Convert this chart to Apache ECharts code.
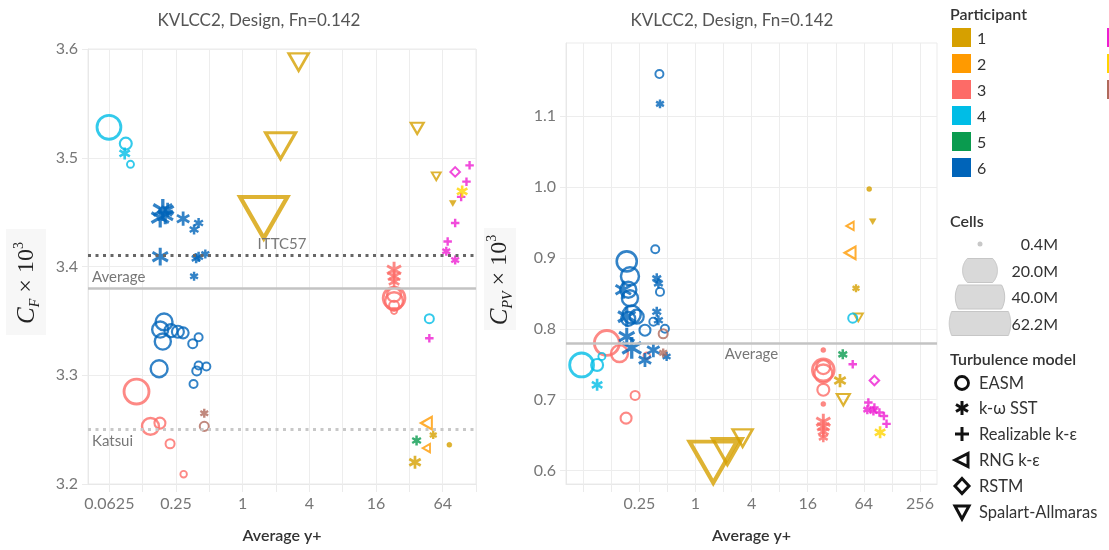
<!DOCTYPE html>
<html><head><meta charset="utf-8">
<script src="https://cdn.jsdelivr.net/npm/echarts@6/dist/echarts.min.js"></script>
<style>html,body{margin:0;padding:0;background:#fff}#c{width:1109px;height:550px}</style>
</head><body><div id="c"></div>
<script>
// ---------------- DATA ----------------
const chartTitle = 'KVLCC2, Design, Fn=0.142';
const participants = ['1','2','3','4','5','6','7','8','9'];
const modelCodes = ['EASM','SST','RKE','RNG','RSTM','SA'];
const modelNames = ['EASM','k-ω SST','Realizable k-ε','RNG k-ε','RSTM','Spalart-Allmaras'];
const cellsLegend = ['0.4M','20.0M','40.0M','62.2M'];
const cellsLegendValues = [0.4, 20.0, 40.0, 62.2];
const xLabelsCF = [0.0625, 0.25, 1, 4, 16, 64];
const xGridCF = [0.0625, 0.125, 0.25, 0.5, 1, 2, 4, 8, 16, 32, 64, 128];
const xLabelsCPV = [0.25, 1, 4, 16, 64, 256];
const xGridCPV = [0.0625, 0.125, 0.25, 0.5, 1, 2, 4, 8, 16, 32, 64, 128, 256];
const yLabelsCPV = [0.6, 0.7, 0.8, 0.9, 1.0, 1.1];
const refCF = [['ITTC57', 3.409], ['Average', 3.381], ['Katsui', 3.255]];
const refCPV = [['Average', 0.7775]];

// rows: [average y+, value x1000, cells (M), turbulence model]
const p1_CF = [[1.55,3.445,62.2,'SA'],[2.2,3.511,25,'SA'],[3.2,3.588,11,'SA'],[37.7,3.527,4.7,'SA'],[56,3.483,2.2,'SA'],[79,3.458,1.3,'SA'],[36,3.220,12,'SST'],[52.6,3.245,4.4,'SST'],[73.5,3.236,0.4,'EASM']];
const p2_CF = [[45.6,3.256,9,'RNG'],[45.6,3.233,4,'RNG']];
const p3_CF = [[0.110,3.285,48,'EASM'],[0.147,3.253,22,'EASM'],[0.179,3.256,9.3,'EASM'],[0.221,3.237,6.3,'EASM'],[0.293,3.209,3.3,'EASM'],
  [23.3,3.371,37,'EASM'],[23.3,3.368,25,'EASM'],[23.3,3.374,15,'EASM'],[23.3,3.364,7.7,'EASM'],[23.3,3.359,2.8,'EASM'],
  [23.3,3.397,18,'SST'],[23.3,3.391,14,'SST'],[23.3,3.386,10,'SST']];
const p4_CF = [[0.062,3.528,44,'EASM'],[0.088,3.513,11,'EASM'],[0.097,3.494,3.8,'EASM'],[0.086,3.504,10,'SST'],[48.5,3.352,6.3,'EASM']];
const p5_CF = [[37.2,3.240,7,'SST']];
const p6_CF = [[0.19,3.452,33,'SST'],[0.18,3.445,28,'SST'],[0.2,3.447,22,'SST'],[0.21,3.452,14,'SST'],[0.29,3.444,14,'SST'],[0.364,3.434,7,'SST'],[0.40,3.440,7,'SST'],[0.18,3.409,22,'SST'],[0.38,3.4075,7,'SST'],[0.40,3.409,7,'SST'],[0.46,3.4115,5.6,'SST'],[0.364,3.391,5.6,'SST'],
  [0.195,3.349,22,'EASM'],[0.18,3.342,20,'EASM'],[0.19,3.331,20,'EASM'],[0.225,3.341,13,'EASM'],[0.26,3.340,11,'EASM'],[0.29,3.339,9.3,'EASM'],[0.354,3.329,6.3,'EASM'],[0.40,3.335,5,'EASM'],[0.176,3.306,22,'EASM'],[0.385,3.304,6.3,'EASM'],[0.40,3.309,5,'EASM'],[0.47,3.308,5,'EASM'],[0.36,3.292,5,'EASM']];
const p7_CF = [[83,3.487,6.3,'RSTM'],[112,3.493,5,'RKE'],[105,3.478,5,'RKE'],[94,3.464,5,'RKE'],[83,3.440,5,'RKE'],[71,3.423,5,'RKE'],[48.5,3.334,5,'RKE'],[69,3.414,5.6,'SST'],[83,3.406,5.6,'SST']];
const p8_CF = [[96,3.469,10,'SST']];
const p9_CF = [[0.45,3.265,5.6,'SST'],[0.45,3.253,6.3,'EASM']];

const p1_CPV = [[1.55,0.612,62.2,'SA'],[2.2,0.627,25,'SA'],[3.2,0.646,11,'SA'],[38.5,0.700,4.7,'SA'],[55.8,0.816,2.2,'SA'],[79.6,0.951,1.3,'SA'],[35.5,0.727,12,'SST'],[52.7,0.857,4.4,'SST'],[73,0.997,0.4,'EASM']];
const p2_CPV = [[45.5,0.945,4,'RNG'],[45.5,0.907,9,'RNG']];
const p3_CPV = [[0.112,0.780,48,'EASM'],[0.153,0.765,22,'EASM'],[0.18,0.674,9.3,'EASM'],[0.225,0.706,6.3,'EASM'],[0.30,0.762,3.3,'EASM'],
  [23.5,0.742,37,'EASM'],[23.5,0.737,25,'EASM'],[23.5,0.746,15,'EASM'],[23.5,0.714,11,'EASM'],[23.5,0.770,1.2,'EASM'],[23.5,0.694,1.0,'EASM'],
  [23.5,0.669,18,'SST'],[23.5,0.662,14,'SST'],[23.5,0.655,10,'SST'],[23.5,0.647,7,'SST']];
const p4_CPV = [[0.06,0.749,44,'EASM'],[0.088,0.749,11,'EASM'],[0.099,0.761,3.8,'EASM'],[0.088,0.721,10,'SST'],[48.6,0.815,6.3,'EASM']];
const p5_CPV = [[38,0.764,7,'SST']];
const p6_CPV = [[0.183,0.895,31,'EASM'],[0.198,0.874,25,'EASM'],[0.19,0.855,20,'EASM'],[0.198,0.843,20,'EASM'],[0.207,0.820,25,'EASM'],[0.19,0.814,15,'EASM'],[0.234,0.817,15,'EASM'],[0.287,0.798,9.3,'EASM'],[0.353,0.810,5,'EASM'],[0.416,0.852,5,'EASM'],[0.47,0.800,5,'EASM'],[0.37,0.912,5,'EASM'],[0.41,1.159,5,'EASM'],
  [0.168,0.855,22,'SST'],[0.183,0.817,28,'SST'],[0.183,0.789,22,'SST'],[0.207,0.773,33,'SST'],[0.287,0.756,14,'SST'],[0.353,0.770,14,'SST'],[0.49,0.761,5.6,'SST'],[0.384,0.871,7,'SST'],[0.40,0.864,7,'SST'],[0.384,0.824,7,'SST'],[0.40,0.812,7,'SST'],[0.416,1.117,5.6,'SST']];
const p7_CPV = [[83,0.727,6.3,'RSTM'],[48.6,0.750,5,'RKE'],[71.5,0.696,5,'RKE'],[83,0.689,5,'RKE'],[94,0.682,5,'RKE'],[105,0.677,5,'RKE'],[112,0.666,5,'RKE'],[69.7,0.686,5.6,'SST'],[81,0.684,5.6,'SST']];
const p8_CPV = [[95.5,0.654,10,'SST']];
const p9_CPV = [[0.45,0.793,6.3,'EASM'],[0.45,0.766,5.6,'SST']];

// ---------------- STYLE ----------------
const colors = ['#d6a000','#ff9a00','#fd6b67','#00bde6','#0a9b4f','#0064b9','#ee1ed2','#ffd400','#b06a5c'];
const FONT = 'Lato, "Open Sans", sans-serif';
const SHAPE_K = {EASM:3.6, SST:3.8, RKE:3.8, RNG:4.2, RSTM:3.8, SA:6.0};
const PATHS = {
  SST: 'path://M0,-10L0,10M-8.66,-5L8.66,5M-8.66,5L8.66,-5',
  RKE: 'path://M0,-10L0,10M-10,0L10,0'
};
function markItem(row, color) {
  const x = row[0], y = row[1], cells = row[2], model = row[3];
  const s = Math.max(5, SHAPE_K[model] * Math.sqrt(cells));
  const it = {value: [x, y], symbolKeepAspect: true};
  const lined = (model === 'SST' || model === 'RKE');
  const bw = lined ? 1.8 + s * 0.07 : 1.5 + s * 0.055;
  if (model === 'EASM') { it.symbol = 'circle'; it.symbolSize = s; }
  else if (lined) { it.symbol = PATHS[model]; it.symbolSize = s; }
  else if (model === 'RNG') { it.symbol = 'triangle'; it.symbolSize = [s, s * 0.87]; it.symbolRotate = 90; }
  else if (model === 'RSTM') { it.symbol = 'diamond'; it.symbolSize = [s, s]; }
  else { it.symbol = 'triangle'; it.symbolSize = [s, s * 0.87]; it.symbolRotate = 180; }
  const filled = cells < 1.5 && !lined;
  it.itemStyle = {color: filled ? color : 'rgba(0,0,0,0)', borderColor: color, borderWidth: filled ? 0.5 : bw};
  return it;
}
const cfSets = [p1_CF,p2_CF,p3_CF,p4_CF,p5_CF,p6_CF,p7_CF,p8_CF,p9_CF];
const cpvSets = [p1_CPV,p2_CPV,p3_CPV,p4_CPV,p5_CPV,p6_CPV,p7_CPV,p8_CPV,p9_CPV];

function refLineData(list, positions, colorsL, types) {
  return list.map((r, i) => ({
    yAxis: r[1],
    lineStyle: {color: colorsL[i], type: types[i], width: types[i] === 'solid' ? 2.5 : 3},
    label: {show: true, formatter: r[0], position: positions[i], color: '#777', fontSize: 15, fontFamily: FONT, distance: 4}
  }));
}

const series = [];
cfSets.forEach((set, i) => {
  const s = {type: 'scatter', name: participants[i], xAxisIndex: 0, yAxisIndex: 0, clip: true,
    data: set.map(r => markItem(r, colors[i])), emphasis: {disabled: true}, animation: false};
  if (i === 0) s.markLine = {silent: true, symbol: 'none', animation: false,
    data: refLineData(refCF, ['insideMiddleTop','insideStartTop','insideStartBottom'], ['#666','#c3c3c3','#c8c8c8'], [[3,4.5],'solid',[3,4.5]])};
  series.push(s);
});
cpvSets.forEach((set, i) => {
  const s = {type: 'scatter', name: participants[i], xAxisIndex: 1, yAxisIndex: 1, clip: true,
    data: set.map(r => markItem(r, colors[i])), emphasis: {disabled: true}, animation: false};
  if (i === 0) s.markLine = {silent: true, symbol: 'none', animation: false,
    data: refLineData(refCPV, ['insideMiddleBottom'], ['#c3c3c3'], ['solid'])};
  series.push(s);
});

function xAxisCfg(grid, minExp, maxV, gridVals, labelVals) {
  return {
    type: 'log', logBase: 2, gridIndex: grid, min: Math.pow(2, minExp), max: maxV,
    axisLine: {show: true, lineStyle: {color: '#e8e8e8'}},
    axisTick: {show: true, length: 8, lineStyle: {color: '#ebebeb'}, customValues: gridVals},
    splitLine: {show: true, lineStyle: {color: '#ededed', width: 1}},
    axisLabel: {customValues: labelVals, color: '#777', fontSize: 16, fontFamily: FONT, margin: 12,
      formatter: v => String(+(+v).toPrecision(6))},
    name: 'Average y+', nameLocation: 'middle', nameGap: 44,
    nameTextStyle: {color: '#333', fontSize: 16, fontFamily: FONT, fontWeight: 600}
  };
}
function yAxisCfg(grid, mn, mx, split, labelVals) {
  const a = {
    type: 'value', gridIndex: grid, min: mn, max: mx, splitNumber: split,
    axisLine: {show: true, lineStyle: {color: '#e8e8e8'}},
    axisTick: {show: true, length: 6, lineStyle: {color: '#ebebeb'}},
    splitLine: {show: true, lineStyle: {color: '#ededed'}},
    axisLabel: {color: '#777', fontSize: 16, fontFamily: FONT, margin: 10, formatter: v => (+v).toFixed(1)}
  };
  if (labelVals) { a.axisLabel.customValues = labelVals; a.axisTick.customValues = labelVals; }
  return a;
}

// ---------------- LEGEND / TEXT GRAPHICS ----------------
const g = [];
function txt(x, y, text, size, color, weight, align) {
  g.push({type: 'text', x: x, y: y, silent: true, style: {text: text, fill: color,
    font: (weight || 'normal') + ' ' + size + 'px ' + FONT,
    align: align || 'left', textAlign: align || 'left', verticalAlign: 'middle', textVerticalAlign: 'middle'}});
}
// titles
txt(259, 21, chartTitle, 17, '#555', 'normal', 'center');
txt(732, 21, chartTitle, 17, '#555', 'normal', 'center');
// y-axis titles
g.push({type: 'rect', shape: {x: 6, y: 229, width: 40, height: 106}, style: {fill: '#f7f7f7'}, silent: true});
g.push({type: 'rect', shape: {x: 484, y: 228, width: 32, height: 102}, style: {fill: '#f7f7f7'}, silent: true});
function yTitle(x, y, sub) {
  const serif = '"Liberation Serif", "DejaVu Serif", serif';
  g.push({type: 'text', x: x, y: y, rotation: Math.PI / 2, silent: true, style: {
    text: '{c|C}{s|' + sub + '}{m| × 10}{p|3}', align: 'center', textAlign: 'center', verticalAlign: 'middle', textVerticalAlign: 'middle',
    rich: {
      c: {fontFamily: serif, fontStyle: 'italic', fontSize: 25, lineHeight: 30, fill: '#222', color: '#222'},
      s: {fontFamily: serif, fontStyle: 'italic', fontSize: 14, lineHeight: 14, verticalAlign: 'bottom', fill: '#222', color: '#222'},
      m: {fontFamily: serif, fontSize: 24, lineHeight: 30, fill: '#222', color: '#222'},
      p: {fontFamily: serif, fontSize: 14, lineHeight: 14, verticalAlign: 'top', fill: '#222', color: '#222'}
    }}});
}
yTitle(27, 283, 'F');
yTitle(500, 280, 'PV');

// Participant legend
txt(950, 15, 'Participant', 16, '#333', 600);
participants.forEach((p, i) => {
  const col = Math.floor(i / 6), row = i % 6;
  const x = col === 0 ? 952 : 1107, y = 37.5 + row * 26;
  g.push({type: 'rect', shape: {x: x, y: y - 9.5, width: 19, height: 19}, style: {fill: colors[i]}, silent: true});
  if (col === 0) txt(977, y + 1, p, 16, '#333');
});
// Cells legend
txt(950, 222, 'Cells', 16, '#333', 600);
const rowsY = [244, 270.5, 297, 323.5];
function clippedCircle(cx, cy, R, half) {
  const pts = [];
  const y1 = Math.max(-R, -half), y2 = Math.min(R, half);
  const N = 24;
  for (let k = 0; k <= N; k++) { const yy = y2 - (y2 - y1) * k / N; pts.push([cx + Math.sqrt(Math.max(0, R * R - yy * yy)), cy + yy]); }
  for (let k = 0; k <= N; k++) { const yy = y1 + (y2 - y1) * k / N; pts.push([cx - Math.sqrt(Math.max(0, R * R - yy * yy)), cy + yy]); }
  return pts;
}
cellsLegendValues.forEach((v, i) => {
  const R = Math.max(2.5, 3.9 * Math.sqrt(v));
  const cy = rowsY[i];
  if (R < 4) g.push({type: 'circle', shape: {cx: 980, cy: cy, r: R}, style: {fill: '#c8c8c8'}, silent: true});
  else g.push({type: 'polygon', shape: {points: clippedCircle(980, cy, R, 12)}, style: {fill: '#d9d9d9', stroke: '#c6c6c6', lineWidth: 1}, silent: true});
  txt(1058, cy + 1, cellsLegend[i], 16, '#333', 'normal', 'right');
});
// Turbulence model legend
txt(950, 360, 'Turbulence model', 16, '#333', 600);
const tmY = [383, 408, 434, 460, 486, 512];
const ix = 962;
const sk = {stroke: '#111', lineWidth: 3, fill: 'none'};
g.push({type: 'circle', shape: {cx: ix, cy: tmY[0], r: 6.5}, style: Object.assign({}, sk, {lineWidth: 2.8}), silent: true});
[[0, -7, 0, 7], [-6, -3.5, 6, 3.5], [-6, 3.5, 6, -3.5]].forEach(l => g.push({type: 'line', shape: {x1: ix + l[0], y1: tmY[1] + l[1], x2: ix + l[2], y2: tmY[1] + l[3]}, style: sk, silent: true}));
[[0, -7, 0, 7], [-7, 0, 7, 0]].forEach(l => g.push({type: 'line', shape: {x1: ix + l[0], y1: tmY[2] + l[1], x2: ix + l[2], y2: tmY[2] + l[3]}, style: sk, silent: true}));
g.push({type: 'polygon', shape: {points: [[ix - 7, tmY[3]], [ix + 6, tmY[3] - 6.5], [ix + 6, tmY[3] + 6.5]]}, style: sk, silent: true});
g.push({type: 'polygon', shape: {points: [[ix, tmY[4] - 7.5], [ix + 7, tmY[4]], [ix, tmY[4] + 7.5], [ix - 7, tmY[4]]]}, style: sk, silent: true});
g.push({type: 'polygon', shape: {points: [[ix - 7, tmY[5] - 6], [ix + 7, tmY[5] - 6], [ix, tmY[5] + 7]]}, style: sk, silent: true});
modelNames.forEach((m, i) => txt(979, tmY[i] + 1, m, 16.5, '#333'));

const option = {
  backgroundColor: '#fff',
  animation: false,
  grid: [
    {left: 88, top: 49, width: 388, height: 435, show: true, borderColor: '#ebebeb', borderWidth: 1},
    {left: 566, top: 43, width: 371, height: 441, show: true, borderColor: '#ebebeb', borderWidth: 1}
  ],
  xAxis: [xAxisCfg(0, -4.64, 128, xGridCF, xLabelsCF), xAxisCfg(1, -4.615, Math.pow(2, 8.606), xGridCPV, xLabelsCPV)],
  yAxis: [yAxisCfg(0, 3.2, 3.6, 4, null), yAxisCfg(1, 0.5812, 1.2028, 6, yLabelsCPV)],
  series: series,
  graphic: {elements: g}
};
const chart = echarts.init(document.getElementById('c'), null, {renderer: 'canvas', width: 1109, height: 550});
chart.setOption(option);
</script>
</body></html>
